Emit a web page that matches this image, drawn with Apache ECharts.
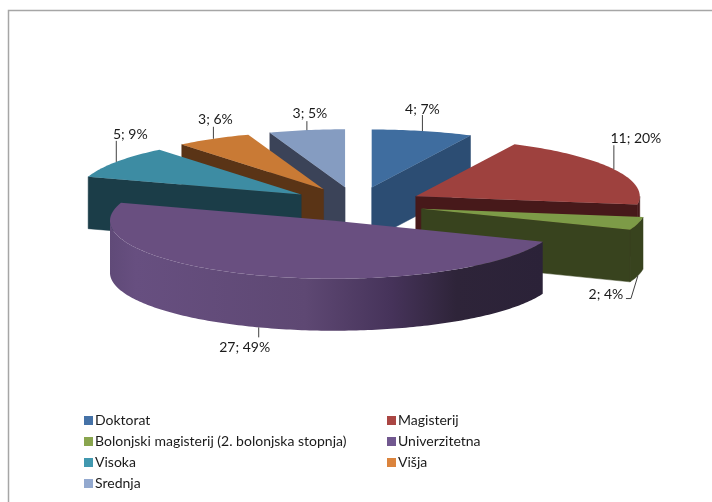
<!DOCTYPE html>
<html>
<head>
<meta charset="utf-8">
<style>
html, body { margin: 0; padding: 0; background: #fff; }
#main { width: 712px; height: 502px; }
</style>
<script src="https://cdn.jsdelivr.net/npm/echarts@6/dist/echarts.min.js"></script>
</head>
<body>
<div id="main"></div>
<script>
// values and percent labels as printed on the chart
var categories = ['Doktorat', 'Magisterij', 'Bolonjski magisterij (2. bolonjska stopnja)', 'Univerzitetna', 'Visoka', 'Višja', 'Srednja'];
var counts = [4, 11, 2, 27, 5, 3, 3];
var percents = [7, 20, 4, 49, 9, 6, 5];

var legendColors = ['#4572a7', '#aa4643', '#89a54e', '#71588f', '#4198af', '#db843d', '#93a9cf'];
var topColors = ['#3f6d9f', '#9e413e', '#7d9b47', '#694f80', '#3d8ca3', '#c97a35', '#859cc1'];
var wallColors = ['#2c4d73', '#47191a', '#38431e', '#2b2238', '#1b3d48', '#5a3416', '#3b4358'];

// projection of the tilted pie
var cx = 356.5, cy = 204.4, rx = 224, ry = 58, depth = 52, explode = 67;

var total = counts.reduce(function (a, b) { return a + b; }, 0);
var starts = [];
var acc = 0;
counts.forEach(function (c) {
    starts.push(acc / total * 360);
    acc += c;
});

function rad(d) { return d * Math.PI / 180; }

// apex of a slice after it is pulled out along its bisector
function apexOf(i) {
    var mid = rad(starts[i] + counts[i] / total * 180);
    return [cx + explode * Math.sin(mid), cy - explode * Math.cos(mid) * ry / rx];
}

function rimPoint(apex, deg, dy) {
    return [apex[0] + rx * Math.sin(rad(deg)), apex[1] - ry * Math.cos(rad(deg)) + (dy || 0)];
}

function arcPoints(apex, from, to, dy) {
    var pts = [];
    for (var d = from; d < to; d += 1) pts.push(rimPoint(apex, d, dy));
    pts.push(rimPoint(apex, to, dy));
    return pts;
}

// leader offsets from the rim, and text position relative to the leader end
var leaders = [
    [[0, -16]],
    [[0, -24]],
    [[-7, 23], [-12, 23]],
    [[0, 10]],
    [[0, -21]],
    [[0, -12]],
    [[0, -9]]
];
var labelShift = [[0, -6], [22, -7], [-20, -4], [-14, 10], [14, -6], [2, -7], [3, -8]];

var depthOrder = categories.map(function (n, i) { return i; }).sort(function (a, b) {
    return apexOf(a)[1] - apexOf(b)[1];
});

function renderSlice(params, api) {
    var i = params.seriesIndex;
    var value = api.value(0);
    var a0 = starts[i];
    var a1 = a0 + value / total * 360;
    var apex = apexOf(i);
    var z = depthOrder.indexOf(i) * 10 + 1;
    var children = [];
    var wall = wallColors[i];

    function radialWall(deg) {
        var r = rimPoint(apex, deg);
        children.push({
            type: 'polygon', z2: z,
            shape: { points: [apex, r, [r[0], r[1] + depth], [apex[0], apex[1] + depth]] },
            style: { fill: wall, stroke: wall, lineWidth: 0.5 }
        });
    }
    if (Math.sin(rad(a0)) < -1e-6) radialWall(a0);
    if (Math.sin(rad(a1)) > 1e-6) radialWall(a1);

    // outer wall, only the half that faces the viewer
    var f0 = Math.max(a0, 90), f1 = Math.min(a1, 270);
    if (f1 > f0) {
        var fill = wall;
        if (i === 3) {
            fill = {
                type: 'linear', x: 0, y: 0, x2: 1, y2: 0,
                colorStops: [
                    { offset: 0, color: '#604a78' },
                    { offset: 0.06, color: '#674f80' },
                    { offset: 0.45, color: '#5e4873' },
                    { offset: 0.65, color: '#46335a' },
                    { offset: 0.8, color: '#2e2439' },
                    { offset: 1, color: '#2b2238' }
                ]
            };
        }
        children.push({
            type: 'polygon', z2: z + 1,
            shape: { points: arcPoints(apex, f0, f1, 0).concat(arcPoints(apex, f0, f1, depth).reverse()) },
            style: { fill: fill, stroke: i === 3 ? null : wall, lineWidth: 0.5 }
        });
    }

    children.push({
        type: 'polygon', z2: z + 2,
        shape: { points: [apex].concat(arcPoints(apex, a0, a1, 0)) },
        style: { fill: topColors[i] }
    });

    // leader line and label
    var mid = (a0 + a1) / 2;
    var start = rimPoint(apex, mid, Math.cos(rad(mid)) < 0 ? depth : 0);
    var line = [start].concat(leaders[i].map(function (o) { return [start[0] + o[0], start[1] + o[1]]; }));
    var end = line[line.length - 1];
    children.push({
        type: 'polyline', z2: 200,
        shape: { points: line },
        style: { stroke: '#404040', lineWidth: 1, fill: null }
    });
    children.push({
        type: 'text', z2: 201,
        style: {
            text: value + '; ' + percents[i] + '%',
            x: end[0] + labelShift[i][0],
            y: end[1] + labelShift[i][1],
            align: 'center',
            verticalAlign: 'middle',
            fill: '#1a1a1a',
            font: '14px Lato'
        }
    });
    return { type: 'group', children: children };
}

var legendText = { fontFamily: 'Lato', fontSize: 14, color: '#1a1a1a', lineHeight: 17, padding: [0, 0, 0, -3] };

var myChart = echarts.init(document.getElementById('main'), null, { renderer: 'canvas' });
myChart.setOption({
    animation: false,
    backgroundColor: '#fff',
    graphic: [{
        type: 'polyline',
        shape: { points: [[8.5, 502], [8.5, 10.5], [712, 10.5]] },
        style: { stroke: '#a6a6a6', lineWidth: 1.5, fill: null },
        silent: true
    }],
    legend: [
        {
            orient: 'vertical', left: 79, top: 407, itemWidth: 9, itemHeight: 9, itemGap: 4,
            icon: 'rect',
            data: [categories[0], categories[2], categories[4], categories[6]],
            textStyle: legendText
        },
        {
            orient: 'vertical', left: 382, top: 407, itemWidth: 9, itemHeight: 9, itemGap: 4,
            icon: 'rect',
            data: [categories[1], categories[3], categories[5]],
            textStyle: legendText
        }
    ],
    series: categories.map(function (name, i) {
        return {
            name: name,
            type: 'custom',
            coordinateSystem: 'none',
            silent: true,
            itemStyle: { color: legendColors[i] },
            data: [[counts[i]]],
            renderItem: renderSlice
        };
    })
});
</script>
</body>
</html>
